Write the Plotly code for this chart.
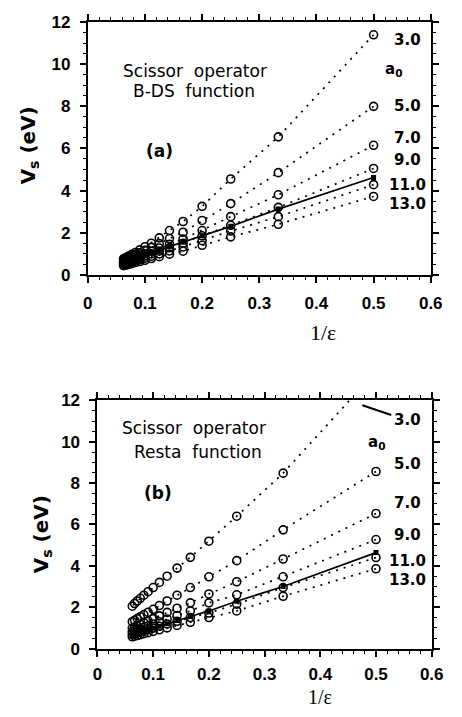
import plotly.graph_objects as go

# 1/epsilon values (epsilon = 2 .. 16)
inv_eps = [0.5, 0.3333, 0.25, 0.2, 0.1667, 0.1429, 0.125, 0.1111, 0.1, 0.0909,
           0.0833, 0.0769, 0.0714, 0.0667, 0.0625]
a0_labels = ["3.0", "5.0", "7.0", "9.0", "11.0", "13.0"]

# Panel (a): B-DS function
a_vals = {
    "3.0": [11.4, 6.55, 4.55, 3.25, 2.53, 2.1, 1.75, 1.5, 1.33, 1.18, 1.06, 0.97, 0.89, 0.82, 0.76],
    "5.0": [8.0, 4.85, 3.38, 2.58, 2.02, 1.72, 1.48, 1.3, 1.16, 1.04, 0.95, 0.87, 0.8, 0.74, 0.69],
    "7.0": [6.15, 3.8, 2.76, 2.1, 1.7, 1.45, 1.27, 1.12, 1.0, 0.91, 0.83, 0.76, 0.7, 0.65, 0.61],
    "9.0": [5.05, 3.2, 2.35, 1.85, 1.5, 1.28, 1.12, 0.99, 0.89, 0.81, 0.74, 0.68, 0.63, 0.58, 0.55],
    "11.0": [4.28, 2.76, 2.08, 1.62, 1.32, 1.13, 0.99, 0.88, 0.79, 0.72, 0.66, 0.61, 0.56, 0.52, 0.49],
    "13.0": [3.72, 2.4, 1.8, 1.4, 1.12, 0.98, 0.86, 0.77, 0.69, 0.63, 0.58, 0.53, 0.49, 0.46, 0.43],
}
a_solid = [4.62, 3.12, 2.3, 1.85, 1.55, 1.35, 1.18, 1.06, 0.96, 0.88, 0.81, 0.75, 0.7, 0.66, 0.62]

# Panel (b): Resta function
b_vals = {
    "3.0": [13.4, 8.48, 6.4, 5.19, 4.41, 3.89, 3.5, 3.2, 2.95, 2.75, 2.58, 2.43, 2.3, 2.18, 2.05],
    "5.0": [8.56, 5.74, 4.25, 3.47, 2.95, 2.58, 2.3, 2.08, 1.9, 1.76, 1.64, 1.54, 1.45, 1.37, 1.3],
    "7.0": [6.53, 4.33, 3.23, 2.64, 2.21, 1.95, 1.75, 1.58, 1.45, 1.34, 1.25, 1.17, 1.1, 1.04, 0.99],
    "9.0": [5.27, 3.47, 2.6, 2.21, 1.82, 1.6, 1.43, 1.3, 1.19, 1.1, 1.03, 0.96, 0.91, 0.86, 0.82],
    "11.0": [4.4, 2.95, 2.15, 1.72, 1.5, 1.32, 1.19, 1.08, 0.99, 0.92, 0.86, 0.8, 0.76, 0.72, 0.68],
    "13.0": [3.86, 2.53, 1.82, 1.5, 1.27, 1.12, 1.0, 0.91, 0.83, 0.77, 0.72, 0.67, 0.63, 0.6, 0.57],
}
b_solid = [4.64, 3.0, 2.29, 1.82, 1.55, 1.36, 1.2, 1.08, 0.98, 0.9, 0.84, 0.78, 0.73, 0.69, 0.65]

# right-hand a0 label positions (pixel y) for each panel
a_label_y = [32, 100, 133, 155, 181, 200]
b_label_y = [422, 467, 507, 540, 567, 587]

W, H = 462, 717
def px(x):
    return x / W
def py(y):
    return 1 - y / H

fig = go.Figure()

def add_panel(vals, solid, xa, ya):
    for lab in a0_labels:
        fig.add_trace(go.Scatter(
            x=inv_eps, y=vals[lab], mode="lines+markers", xaxis=xa, yaxis=ya,
            line=dict(color="black", width=1.7, dash="2px,6px"),
            marker=dict(symbol="circle-open", size=8, color="black", line=dict(width=1.6)),
            showlegend=False, hoverinfo="skip"))
    fig.add_trace(go.Scatter(
        x=inv_eps, y=solid, mode="lines+markers", xaxis=xa, yaxis=ya,
        line=dict(color="black", width=1.7),
        marker=dict(symbol="square", size=5, color="black"),
        showlegend=False, hoverinfo="skip"))

add_panel(a_vals, a_solid, "x", "y")
add_panel(b_vals, b_solid, "x2", "y2")

tickfont = dict(family="Liberation Sans, Arial", size=17, color="black", weight="bold")
axis_common = dict(
    showline=True, linecolor="black", linewidth=2, mirror="allticks",
    ticks="outside", ticklen=6, tickwidth=1.5, tickcolor="black",
    showgrid=False, zeroline=False, tickfont=tickfont,
)
xminor = dict(dtick=0.02, ticks="outside", ticklen=3, tickcolor="black", tickwidth=1)
yminor = dict(dtick=0.5, ticks="outside", ticklen=3, tickcolor="black", tickwidth=1)
xcommon = dict(axis_common, range=[0, 0.6], dtick=0.1, tick0=0, minor=xminor)
ycommon = dict(axis_common, range=[0, 12], dtick=2, tick0=0, ticklabelstandoff=6, minor=yminor)

fig.update_layout(
    width=W, height=H,
    margin=dict(l=0, r=0, t=0, b=0),
    paper_bgcolor="white", plot_bgcolor="white",
    xaxis=dict(xcommon, domain=[px(86), px(442)], anchor="y", ticklabelstandoff=6),
    yaxis=dict(ycommon, domain=[py(273), py(13.5)], anchor="x"),
    xaxis2=dict(xcommon, domain=[px(96), px(443)], anchor="y2", ticklabelstandoff=3),
    yaxis2=dict(ycommon, domain=[py(657), py(402)], anchor="x2"),
    showlegend=False,
)

SANS = "DejaVu Sans, Verdana"
annots = []
def txt(x, y, s, size=15, family=SANS, weight="normal", angle=0):
    annots.append(dict(x=px(x), y=py(y), xref="paper", yref="paper", text=s,
                       showarrow=False, textangle=angle, borderpad=0,
                       font=dict(family=family, size=size, color="black", weight=weight),
                       xanchor="center", yanchor="middle"))

# panel (a) texts
txt(197, 64, "Scissor  operator", size=17)
txt(196, 84, "B-DS  function", size=17)
txt(160, 146, "(a)", size=17, weight="bold")
txt(403, 62, "a<sub>0</sub>", size=15, weight="bold")
for lab, yy in zip(a0_labels, a_label_y):
    txt(418, yy, lab, size=15, weight="bold")
txt(25, 140, "V<sub>s</sub> (eV)", size=20, weight="bold", angle=-90)
txt(330, 332, "1/ε", size=22, family="Liberation Serif, Times New Roman")

# panel (b) texts
txt(196, 430, "Scissor  operator", size=17)
txt(200, 455, "Resta  function", size=17)
txt(159, 497, "(b)", size=17, weight="bold")
txt(386, 445, "a<sub>0</sub>", size=15, weight="bold")
for lab, yy in zip(a0_labels, b_label_y):
    txt(418, yy, lab, size=15, weight="bold")
txt(38, 540, "V<sub>s</sub> (eV)", size=20, weight="bold", angle=-90)
txt(327, 707, "1/ε", size=20, family="Liberation Serif, Times New Roman")

fig.update_layout(annotations=annots)

# leader line for a0 = 3.0 in panel (b)
fig.add_shape(type="line", xref="paper", yref="paper",
              x0=px(371), y0=py(407), x1=px(401), y1=py(417),
              line=dict(color="black", width=2))

fig.write_html("out.html")
